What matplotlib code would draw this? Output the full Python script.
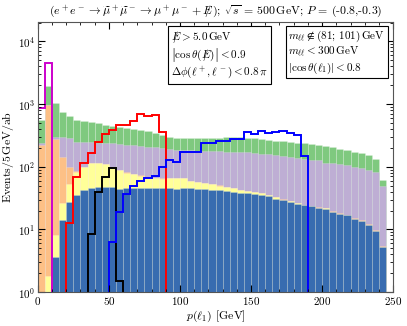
import numpy as np
import matplotlib
matplotlib.use('Agg')
from matplotlib import pyplot as plt
from matplotlib.ticker import MultipleLocator, LogLocator, NullFormatter

plt.rcParams['font.family'] = 'serif'
plt.rcParams['font.serif'] = ['cmr10']
plt.rcParams['mathtext.fontset'] = 'cm'
plt.rcParams['axes.formatter.use_mathtext'] = True

# 5 GeV bins, 0 .. 245 GeV
edges = np.arange(0, 250, 5)

# upper edge of each stacked layer (Events/5GeV/ab)
top_blue = [0, 0, 3.6, 14, 27, 35, 42, 45, 47, 48,
            47, 44, 45, 46, 46, 46, 45, 45, 45, 44,
            45, 45, 44, 44, 42, 42, 41, 40, 38, 38,
            37, 35, 34, 31, 29, 27.4, 25.8, 24.2, 23.3, 22.2,
            21.5, 19, 17.8, 16.7, 14.8, 13.5, 11.6, 9.4, 5.2]
top_yellow = [0, 1.8, 8, 26, 54, 83, 99, 113, 115, 110,
              99, 88, 80, 76, 72, 68, 66, 64, 65, 66,
              65, 59, 57, 55, 52.5, 50, 47.5, 45, 42, 41,
              39.5, 37.5, 35.5, 32.5, 30, 28, 26, 24.4, 23.4, 22.3,
              21.6, 19.1, 17.9, 16.8, 14.9, 13.6, 11.7, 9.5, 5.3]
top_orange = [220, 960, 280, 145, 100, 84, 100, 114, 116, 111,
              100, 89, 81, 77, 73, 69, 67, 65, 66, 67,
              66, 60, 58, 56, 53, 51, 48, 46, 43, 41.5,
              40, 38, 36, 33, 30.5, 28.5, 26.5, 24.8, 23.8, 22.7,
              22, 19.5, 18.2, 17.1, 15.2, 13.9, 12, 9.7, 5.4]
top_purple = [235, 965, 300, 300, 290, 250, 250, 245, 240, 238,
              235, 230, 225, 220, 215, 210, 205, 200, 192, 186,
              185, 182, 180, 178, 177, 176, 174, 173, 172, 170,
              168, 162, 158, 155, 150, 145, 140, 135, 130, 127,
              115, 113, 110, 105, 100, 95, 88, 83, 50]
top_green = [555, 1940, 1050, 750, 640, 560, 530, 510, 490, 470,
             450, 430, 410, 395, 380, 365, 345, 325, 300, 290,
             285, 283, 285, 288, 290, 292, 293, 293, 293, 292,
             290, 280, 270, 262, 255, 248, 242, 235, 228, 220,
             213, 205, 195, 185, 175, 165, 153, 132, 61]

# signal histograms (unstacked outlines)
sig_magenta_edges = [0, 5, 10]
sig_magenta = [870, 4470]
sig_red_edges = np.arange(20, 95, 5)
sig_red = [12.6, 68, 115, 165, 250, 330, 385, 463, 463, 545, 690, 645, 680, 362]
sig_black_edges = np.arange(35, 65, 5)
sig_black = [8.5, 39.5, 69, 94, 1.5]
sig_blue_edges = np.arange(50, 195, 5)
sig_blue = [6.3, 19, 37, 50, 60, 67, 72, 100, 130, 120,
            175, 175, 175, 235, 235, 258, 258, 278, 278, 360,
            335, 365, 345, 360, 375, 350, 318, 149]

fig = plt.figure(figsize=(4.07, 3.26), dpi=100)
ax = fig.add_axes([0.093, 0.104, 0.873, 0.829])

layers = [(top_green, '#7fc97f'), (top_purple, '#beaed4'), (top_orange, '#fdc086'),
          (top_yellow, '#ffff99'), (top_blue, '#386cb0')]
for tops, col in layers:
    ax.bar(edges[:-1], tops, width=5, align='edge', bottom=0, color=col,
           edgecolor=(1, 1, 1, 0.25), linewidth=0.5)

ax.stairs(sig_magenta, sig_magenta_edges, baseline=1e-3, color='#cc00cc', lw=1.4)
ax.stairs(sig_red, sig_red_edges, baseline=1e-3, color='red', lw=1.4)
ax.stairs(sig_black, sig_black_edges, baseline=1e-3, color='black', lw=1.4)
ax.stairs(sig_blue, sig_blue_edges, baseline=1e-3, color='blue', lw=1.4)

ax.set_yscale('log')
ax.set_xlim(0, 250)
ax.set_ylim(1, 2.05e4)
ax.xaxis.set_major_locator(MultipleLocator(50))
ax.xaxis.set_minor_locator(MultipleLocator(10))
ax.yaxis.set_major_locator(LogLocator(base=10, numticks=10))
ax.yaxis.set_minor_locator(LogLocator(base=10, subs=np.arange(2, 10), numticks=20))
ax.yaxis.set_minor_formatter(NullFormatter())
ax.tick_params(which='both', direction='in', top=True, right=True, labelsize=8)
ax.tick_params(which='major', length=5, pad=2)
ax.tick_params(which='minor', length=2.5)
for s in ax.spines.values():
    s.set_color('#555555')

met = r'E\!\!\!\!/\,'
ax.set_xlabel(r'$p(\ell_1)$ [GeV]', fontsize=8.5, labelpad=1)
ax.set_ylabel(r'Events/5$\,$GeV/ab', fontsize=8.5, labelpad=1)
ax.set_title(r'$(e^+e^- \to \widetilde{\mu}^+\widetilde{\mu}^- \to \mu^+\mu^- + ' + met + r')$; '
             r'$\sqrt{s}$ = 500$\,$GeV; $P$ = (-0.8,-0.3)', fontsize=8.5, pad=5)

box = dict(boxstyle='square,pad=0.25', facecolor='white', edgecolor='black', lw=0.8)
ax.text(0.375, 0.975,
        '$' + met + r' > 5.0\,$GeV' + '\n'
        r'$\left|\cos\theta(' + met + r')\right| < 0.9$' + '\n'
        r'$\Delta\phi(\ell^+,\ell^-) < 0.8\,\pi$',
        transform=ax.transAxes, ha='left', va='top', fontsize=8, bbox=box,
        linespacing=1.1)
ax.text(0.705, 0.975,
        r'$m_{\ell\ell} \notin (81;\,101)\,$GeV' + '\n'
        r'$m_{\ell\ell} < 300\,$GeV' + '\n'
        r'$|\cos\theta(\ell_1)| < 0.8$',
        transform=ax.transAxes, ha='left', va='top', fontsize=8, bbox=box,
        linespacing=1.1)

fig.savefig('out.png', dpi=100)
